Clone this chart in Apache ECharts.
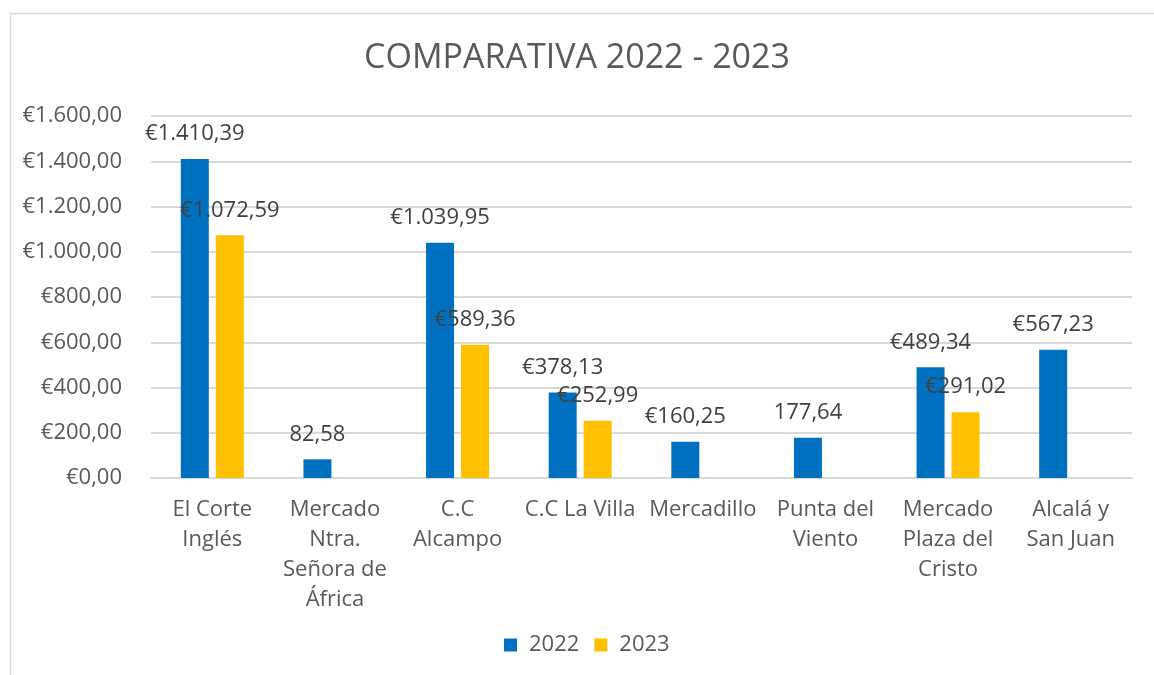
<!DOCTYPE html>
<html>
<head>
<meta charset="utf-8">
<script src="https://cdn.jsdelivr.net/npm/echarts@6/dist/echarts.min.js"></script>
<style>
html, body { margin: 0; padding: 0; background: #fff; }
#chart { width: 1154px; height: 675px; }
</style>
</head>
<body>
<div id="chart"></div>
<script>
const categories = ['El Corte\nInglés', 'Mercado\nNtra.\nSeñora de\nÁfrica', 'C.C\nAlcampo', 'C.C La Villa', 'Mercadillo', 'Punta del\nViento', 'Mercado\nPlaza del\nCristo', 'Alcalá y\nSan Juan']
const valores2022 = [1410.39, 82.58, 1039.95, 378.13, 160.25, 177.64, 489.34, 567.23]
const valores2023 = [1072.59, null, 589.36, 252.99, null, null, 291.02, null]
// las etiquetas de estos puntos no llevan el símbolo €
const sinEuro2022 = [false, true, false, false, false, true, false, false]
const yMin = 0
const yMax = 1600
const yInterval = 200

const font = '"Open Sans", "Noto Sans", sans-serif'

function formatoEs(v){
	const partes = v.toFixed(2).split('.')
	const entero = partes[0].replace(/\B(?=(\d{3})+(?!\d))/g, '.')
	return entero + ',' + partes[1]
}

const myChart = echarts.init(document.getElementById('chart'))

const option = {
	animation: false,
	title: {
		text: 'COMPARATIVA 2022 - 2023',
		left: 'center',
		top: 36,
		textStyle: { fontFamily: font, fontSize: 34, fontWeight: 'normal', color: '#595959' }
	},
	graphic: [{
		type: 'rect',
		left: 8, top: 11,
		shape: { width: 1160, height: 700 },
		style: { fill: 'none', stroke: '#d9d9d9', lineWidth: 1.5 }
	}],
	legend: {
		bottom: 14,
		left: 499,
		itemWidth: 13,
		itemHeight: 13,
		itemGap: 15,
		icon: 'rect',
		textStyle: { fontFamily: font, fontSize: 22, color: '#595959', padding: [0, 0, 0, 7] },
		data: ['2022', '2023']
	},
	grid: { left: 151, right: 22, top: 116, bottom: 197 },
	xAxis: {
		type: 'category',
		data: categories,
		axisLine: { lineStyle: { color: '#d9d9d9', width: 2 } },
		axisTick: { show: false },
		axisLabel: {
			interval: 0,
			margin: 17,
			lineHeight: 30,
			fontFamily: font,
			fontSize: 22,
			color: '#595959'
		}
	},
	yAxis: {
		type: 'value',
		min: yMin,
		max: yMax,
		interval: yInterval,
		axisLine: { show: false },
		axisTick: { show: false },
		splitLine: { lineStyle: { color: '#d9d9d9', width: 2 } },
		axisLabel: {
			margin: 29,
			fontFamily: font,
			fontSize: 22,
			color: '#595959',
			formatter: v => '€' + formatoEs(v)
		}
	},
	series: [
		{
			name: '2022',
			type: 'bar',
			data: valores2022,
			barWidth: 28,
			barGap: '25%',
			itemStyle: { color: '#0070C0' },
			label: {
				show: true,
				position: 'top',
				distance: 14,
				fontFamily: font,
				fontSize: 22,
				color: '#404040',
				formatter: p => (sinEuro2022[p.dataIndex] ? '' : '€') + formatoEs(p.value)
			}
		},
		{
			name: '2023',
			type: 'bar',
			data: valores2023,
			barWidth: 28,
			itemStyle: { color: '#FFC000' },
			label: {
				show: true,
				position: 'top',
				distance: 14,
				fontFamily: font,
				fontSize: 22,
				color: '#404040',
				formatter: p => '€' + formatoEs(p.value)
			}
		}
	]
}

myChart.setOption(option)
</script>
</body>
</html>
